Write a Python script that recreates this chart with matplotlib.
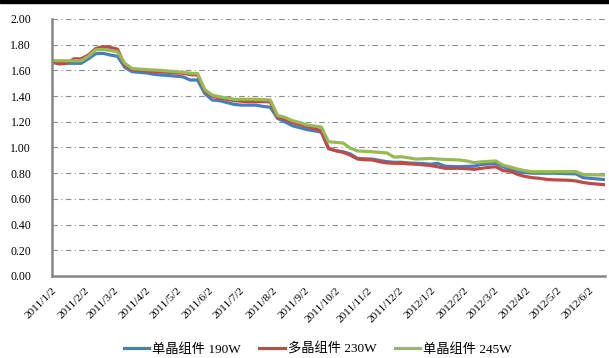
import matplotlib
matplotlib.use("Agg")
import matplotlib.pyplot as plt
from matplotlib.patches import Rectangle
import datetime as dt

start = dt.date(2011, 1, 2)
n_weeks = 77
dates = [start + dt.timedelta(days=7 * i) for i in range(n_weeks)]

mono_190 = [1.66, 1.655, 1.655, 1.655, 1.655, 1.69, 1.73, 1.733, 1.72, 1.71,
            1.624, 1.59, 1.585, 1.58, 1.57, 1.564, 1.56, 1.555, 1.55, 1.525,
            1.525, 1.42, 1.37, 1.365, 1.35, 1.336, 1.33, 1.33, 1.33, 1.32,
            1.313, 1.227, 1.20, 1.17, 1.155, 1.14, 1.13, 1.12, 0.99, 0.975,
            0.967, 0.95, 0.915, 0.912, 0.91, 0.90, 0.89, 0.885, 0.885, 0.88,
            0.877, 0.875, 0.87, 0.877, 0.855, 0.852, 0.851, 0.853, 0.855, 0.868,
            0.872, 0.876, 0.85, 0.83, 0.815, 0.805, 0.80, 0.80, 0.80, 0.80,
            0.798, 0.796, 0.795, 0.765, 0.76, 0.755, 0.75]
poly_230 = [1.668, 1.65, 1.655, 1.69, 1.69, 1.72, 1.77, 1.785, 1.78, 1.765,
            1.642, 1.607, 1.60, 1.596, 1.592, 1.588, 1.585, 1.58, 1.578, 1.567,
            1.565, 1.44, 1.40, 1.385, 1.375, 1.365, 1.36, 1.357, 1.357, 1.357,
            1.355, 1.235, 1.22, 1.195, 1.18, 1.162, 1.15, 1.13, 0.995, 0.975,
            0.962, 0.94, 0.91, 0.905, 0.903, 0.89, 0.88, 0.877, 0.877, 0.873,
            0.87, 0.865, 0.86, 0.85, 0.838, 0.838, 0.838, 0.835, 0.83, 0.838,
            0.845, 0.85, 0.82, 0.815, 0.79, 0.775, 0.765, 0.76, 0.752, 0.748,
            0.747, 0.745, 0.74, 0.728, 0.72, 0.715, 0.71]
mono_245 = [1.676, 1.675, 1.675, 1.675, 1.675, 1.71, 1.76, 1.764, 1.755, 1.745,
            1.655, 1.615, 1.61, 1.606, 1.603, 1.60, 1.595, 1.59, 1.585, 1.578,
            1.575, 1.45, 1.408, 1.395, 1.385, 1.375, 1.375, 1.375, 1.375, 1.372,
            1.37, 1.25, 1.235, 1.21, 1.195, 1.175, 1.168, 1.16, 1.045, 1.04,
            1.035, 0.995, 0.973, 0.97, 0.967, 0.962, 0.958, 0.925, 0.928, 0.92,
            0.91, 0.912, 0.915, 0.91, 0.907, 0.905, 0.903, 0.895, 0.882, 0.888,
            0.892, 0.895, 0.862, 0.848, 0.832, 0.82, 0.812, 0.812, 0.812, 0.812,
            0.812, 0.812, 0.812, 0.79, 0.788, 0.787, 0.785]

series_names = ["单晶组件 190W", "多晶组件 230W", "单晶组件 245W"]
series_values = [mono_190, poly_230, mono_245]
colors = ["#4A7EBB", "#BE4B48", "#98B954"]

y_ticks = [0.0, 0.2, 0.4, 0.6, 0.8, 1.0, 1.2, 1.4, 1.6, 1.8, 2.0]
tick_dates = [dt.date(2011 + (m // 12), (m % 12) + 1, 2) for m in range(18)]
tick_labels = [f"{d.year}/{d.month}/{d.day}" for d in tick_dates]

W, H = 609, 358
fig = plt.figure(figsize=(W / 100, H / 100), dpi=100)
ax = fig.add_axes([52 / W, 1 - 276 / H, (605 - 52) / W, (276 - 19) / H])

fam = ["Liberation Serif", "Noto Sans CJK SC"]

for name, vals, c in zip(series_names, series_values, colors):
    ax.plot(dates, vals, color=c, lw=2.3, label=name, solid_joinstyle="round")

ax.set_ylim(0, 2.0)
ax.set_xlim(dates[0], dates[-1])
ax.set_yticks(y_ticks)
ax.set_yticklabels([f"{v:.2f}" for v in y_ticks], family=fam, fontsize=8.5)
ax.set_xticks(tick_dates)
ax.set_xticklabels(tick_labels, family=fam, fontsize=8.2, rotation=45,
                   ha="right", va="top", rotation_mode="anchor")
ax.tick_params(axis="both", length=0)
ax.tick_params(axis="y", pad=15)
ax.tick_params(axis="x", pad=7)

for v in y_ticks[1:]:
    ax.axhline(v, color="#8c8c8c", lw=0.8, ls=(0, (5, 3, 1, 3)), zorder=0)

for s in ["top", "right"]:
    ax.spines[s].set_visible(False)
for s in ["left", "bottom"]:
    ax.spines[s].set_color("#868686")
    ax.spines[s].set_linewidth(1.8)

leg = fig.legend(loc="center", bbox_to_anchor=(0.522, 1 - 349 / H), ncol=3,
                 frameon=False, prop={"family": fam, "size": 9.5},
                 handlelength=1.9, columnspacing=1.4, handletextpad=0.25)

fig.patches.append(Rectangle((0, 1 - 3 / H), 1, 3 / H, transform=fig.transFigure,
                             color="black", zorder=10))

fig.savefig("out.png", dpi=100)
